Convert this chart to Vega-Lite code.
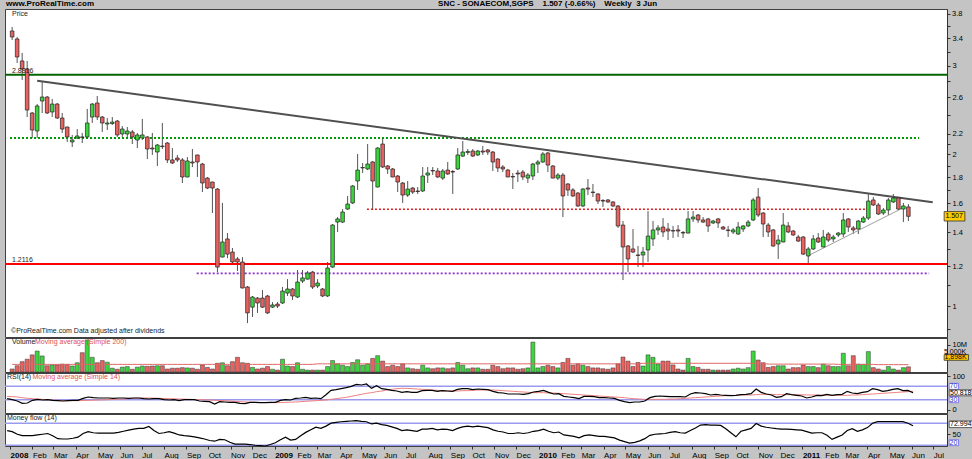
{
"$schema": "https://vega.github.io/schema/vega-lite/v6.json",
"background": "#c4c4c4",
"padding": {"left": 3, "top": 0, "right": 0, "bottom": 0},
"spacing": 1,
"bounds": "flush",
"config": {
  "font": "Liberation Sans",
  "view": {"fill": "white", "stroke": "#404040", "strokeWidth": 1},
  "axis": {"labelFont": "Liberation Sans", "labelFontSize": 7.5, "labelColor": "#000", "tickColor": "#333", "domainColor": "#333", "grid": false, "labelOverlap": false, "labelBound": false}
},
"datasets": {"one": [{}], "w": [
{"d":"2007-12-28","o":3.516,"h":3.581,"l":3.375,"c":3.421,"v":1.1,"r":33,"rm":40,"m":60,"vm":2.8},
{"d":"2008-01-04","o":3.39,"h":3.421,"l":3.038,"c":3.122,"v":2.3,"r":30,"rm":39,"m":57,"vm":2.8},
{"d":"2008-01-11","o":3.066,"h":3.18,"l":2.811,"c":2.956,"v":3.8,"r":26,"rm":38,"m":50,"vm":2.8},
{"d":"2008-01-18","o":2.956,"h":3.066,"l":2.373,"c":2.45,"v":4.7,"r":19,"rm":36,"m":46,"vm":2.8},
{"d":"2008-01-25","o":2.417,"h":2.428,"l":2.156,"c":2.236,"v":6.3,"r":20,"rm":34,"m":46,"vm":2.8},
{"d":"2008-02-01","o":2.226,"h":2.518,"l":2.156,"c":2.496,"v":7.7,"r":28,"rm":33,"m":46,"vm":2.8},
{"d":"2008-02-08","o":2.553,"h":2.798,"l":2.417,"c":2.6,"v":5.9,"r":31,"rm":32,"m":48,"vm":2.8},
{"d":"2008-02-15","o":2.6,"h":2.612,"l":2.406,"c":2.417,"v":2.3,"r":29,"rm":31,"m":50,"vm":2.8},
{"d":"2008-02-22","o":2.428,"h":2.577,"l":2.373,"c":2.518,"v":2.6,"r":30,"rm":30,"m":52,"vm":2.8},
{"d":"2008-02-29","o":2.518,"h":2.53,"l":2.352,"c":2.362,"v":2.6,"r":28,"rm":29,"m":46,"vm":2.8},
{"d":"2008-03-07","o":2.362,"h":2.417,"l":2.206,"c":2.246,"v":2.9,"r":27,"rm":28,"m":38,"vm":2.8},
{"d":"2008-03-14","o":2.267,"h":2.27,"l":2.117,"c":2.166,"v":2.8,"r":26,"rm":27.5,"m":37,"vm":2.8},
{"d":"2008-03-21","o":2.117,"h":2.186,"l":2.069,"c":2.136,"v":2.2,"r":27,"rm":27,"m":37,"vm":2.8},
{"d":"2008-03-28","o":2.156,"h":2.246,"l":2.146,"c":2.176,"v":3.4,"r":28,"rm":27,"m":39,"vm":2.8},
{"d":"2008-04-04","o":2.166,"h":2.206,"l":2.107,"c":2.162,"v":7.1,"r":28,"rm":27,"m":42,"vm":2.8},
{"d":"2008-04-11","o":2.166,"h":2.462,"l":2.16,"c":2.309,"v":11.8,"r":34,"rm":27.5,"m":52,"vm":2.8},
{"d":"2008-04-18","o":2.373,"h":2.53,"l":2.309,"c":2.518,"v":5.4,"r":38,"rm":28,"m":57,"vm":2.8},
{"d":"2008-04-25","o":2.53,"h":2.612,"l":2.341,"c":2.373,"v":3.4,"r":36,"rm":28.5,"m":54,"vm":2.8},
{"d":"2008-05-02","o":2.373,"h":2.384,"l":2.216,"c":2.309,"v":4.2,"r":35,"rm":29,"m":53,"vm":2.8},
{"d":"2008-05-09","o":2.298,"h":2.362,"l":2.236,"c":2.309,"v":3.6,"r":35,"rm":29.5,"m":53,"vm":2.8},
{"d":"2008-05-16","o":2.303,"h":2.373,"l":2.288,"c":2.319,"v":1.4,"r":35,"rm":30,"m":53,"vm":2.8},
{"d":"2008-05-23","o":2.33,"h":2.341,"l":2.166,"c":2.186,"v":1.0,"r":34,"rm":31,"m":53,"vm":2.8},
{"d":"2008-05-30","o":2.196,"h":2.277,"l":2.166,"c":2.246,"v":1.8,"r":35,"rm":31.5,"m":55,"vm":2.8},
{"d":"2008-06-06","o":2.196,"h":2.267,"l":2.166,"c":2.226,"v":2.0,"r":35,"rm":32,"m":58,"vm":2.8},
{"d":"2008-06-13","o":2.216,"h":2.236,"l":2.097,"c":2.166,"v":1.0,"r":34,"rm":33,"m":61,"vm":2.8},
{"d":"2008-06-20","o":2.136,"h":2.206,"l":2.059,"c":2.186,"v":1.8,"r":35,"rm":34,"m":64,"vm":2.8},
{"d":"2008-06-27","o":2.156,"h":2.352,"l":2.136,"c":2.186,"v":2.2,"r":35,"rm":34.5,"m":66,"vm":2.8},
{"d":"2008-07-04","o":2.166,"h":2.176,"l":1.958,"c":2.05,"v":2.1,"r":33,"rm":35,"m":66,"vm":2.8},
{"d":"2008-07-11","o":2.059,"h":2.206,"l":1.995,"c":2.05,"v":2.2,"r":32,"rm":35,"m":71,"vm":2.8},
{"d":"2008-07-18","o":2.022,"h":2.097,"l":1.897,"c":2.088,"v":2.3,"r":33,"rm":34.5,"m":60,"vm":2.8},
{"d":"2008-07-25","o":2.078,"h":2.309,"l":2.05,"c":2.073,"v":2.3,"r":33,"rm":34,"m":52,"vm":2.8},
{"d":"2008-08-01","o":2.107,"h":2.117,"l":1.923,"c":1.95,"v":1.1,"r":30,"rm":33.5,"m":54,"vm":2.8},
{"d":"2008-08-08","o":1.95,"h":2.059,"l":1.914,"c":1.923,"v":1.4,"r":29,"rm":33,"m":57,"vm":2.8},
{"d":"2008-08-15","o":1.967,"h":1.995,"l":1.932,"c":1.95,"v":1.4,"r":30,"rm":32.5,"m":53,"vm":2.8},
{"d":"2008-08-22","o":1.95,"h":1.967,"l":1.755,"c":1.804,"v":1.6,"r":27,"rm":32,"m":48,"vm":2.8},
{"d":"2008-08-29","o":1.804,"h":1.976,"l":1.801,"c":1.941,"v":1.5,"r":30,"rm":31.5,"m":46,"vm":2.8},
{"d":"2008-09-05","o":1.932,"h":2.05,"l":1.888,"c":1.923,"v":1.4,"r":30,"rm":31,"m":45,"vm":2.8},
{"d":"2008-09-12","o":1.995,"h":1.997,"l":1.804,"c":1.932,"v":1.0,"r":30,"rm":30.5,"m":43,"vm":2.8},
{"d":"2008-09-19","o":1.914,"h":1.923,"l":1.684,"c":1.755,"v":2.6,"r":26,"rm":30,"m":40,"vm":2.8},
{"d":"2008-09-26","o":1.795,"h":1.804,"l":1.707,"c":1.715,"v":1.7,"r":25,"rm":29.5,"m":37,"vm":2.8},
{"d":"2008-10-03","o":1.763,"h":1.765,"l":1.53,"c":1.715,"v":1.1,"r":24,"rm":29,"m":33,"vm":2.8},
{"d":"2008-10-10","o":1.707,"h":1.715,"l":1.168,"c":1.195,"v":3.2,"r":17,"rm":28,"m":31,"vm":2.8},
{"d":"2008-10-17","o":1.251,"h":1.602,"l":1.249,"c":1.34,"v":3.4,"r":24,"rm":27.5,"m":36,"vm":2.8},
{"d":"2008-10-24","o":1.359,"h":1.396,"l":1.245,"c":1.268,"v":2.3,"r":23,"rm":27,"m":35,"vm":2.8},
{"d":"2008-10-31","o":1.28,"h":1.304,"l":1.212,"c":1.223,"v":3.8,"r":22,"rm":26,"m":28,"vm":2.8},
{"d":"2008-11-07","o":1.24,"h":1.251,"l":1.174,"c":1.223,"v":5.4,"r":22,"rm":25,"m":23,"vm":2.8},
{"d":"2008-11-14","o":1.223,"h":1.251,"l":1.084,"c":1.086,"v":3.4,"r":19,"rm":24,"m":23,"vm":2.8},
{"d":"2008-11-21","o":1.091,"h":1.096,"l":0.925,"c":0.969,"v":3.2,"r":18,"rm":23,"m":23,"vm":2.8},
{"d":"2008-11-28","o":0.995,"h":1.047,"l":0.951,"c":1.042,"v":1.7,"r":22,"rm":22.5,"m":22,"vm":2.8},
{"d":"2008-12-05","o":1.037,"h":1.042,"l":0.969,"c":1.014,"v":1.1,"r":22,"rm":22,"m":20,"vm":2.8},
{"d":"2008-12-12","o":1.037,"h":1.076,"l":0.991,"c":0.995,"v":1.4,"r":21,"rm":21.5,"m":19,"vm":2.8},
{"d":"2008-12-19","o":1.047,"h":1.052,"l":0.964,"c":0.969,"v":2.0,"r":21,"rm":21.5,"m":18,"vm":2.8},
{"d":"2008-12-26","o":0.995,"h":1.018,"l":0.991,"c":1.005,"v":1.0,"r":22,"rm":21,"m":22,"vm":2.8},
{"d":"2009-01-02","o":1.009,"h":1.018,"l":0.991,"c":1.0,"v":0.7,"r":22,"rm":21,"m":27,"vm":2.8},
{"d":"2009-01-09","o":1.014,"h":1.091,"l":1.009,"c":1.071,"v":4.7,"r":28,"rm":21.5,"m":35,"vm":2.8},
{"d":"2009-01-16","o":1.061,"h":1.131,"l":1.047,"c":1.081,"v":2.2,"r":30,"rm":22,"m":42,"vm":2.8},
{"d":"2009-01-23","o":1.081,"h":1.086,"l":1.028,"c":1.047,"v":2.0,"r":29,"rm":22.5,"m":34,"vm":2.8},
{"d":"2009-01-30","o":1.042,"h":1.179,"l":1.037,"c":1.116,"v":3.4,"r":34,"rm":23,"m":36,"vm":2.8},
{"d":"2009-02-06","o":1.121,"h":1.179,"l":1.111,"c":1.137,"v":1.0,"r":35,"rm":24,"m":46,"vm":2.8},
{"d":"2009-02-13","o":1.131,"h":1.174,"l":1.128,"c":1.163,"v":0.7,"r":37,"rm":25,"m":55,"vm":2.8},
{"d":"2009-02-20","o":1.168,"h":1.174,"l":1.081,"c":1.091,"v":0.7,"r":34,"rm":26,"m":62,"vm":2.8},
{"d":"2009-02-27","o":1.096,"h":1.131,"l":1.086,"c":1.111,"v":0.7,"r":35,"rm":27,"m":69,"vm":3.0},
{"d":"2009-03-06","o":1.081,"h":1.086,"l":1.042,"c":1.047,"v":0.7,"r":33,"rm":28,"m":66,"vm":3.0},
{"d":"2009-03-13","o":1.047,"h":1.223,"l":1.042,"c":1.19,"v":2.0,"r":45,"rm":29,"m":72,"vm":3.0},
{"d":"2009-03-20","o":1.195,"h":1.455,"l":1.19,"c":1.448,"v":4.2,"r":58,"rm":31,"m":80,"vm":3.0},
{"d":"2009-03-27","o":1.468,"h":1.502,"l":1.403,"c":1.489,"v":3.0,"r":60,"rm":33,"m":82,"vm":3.0},
{"d":"2009-04-03","o":1.468,"h":1.558,"l":1.462,"c":1.537,"v":2.5,"r":63,"rm":35,"m":84,"vm":3.0},
{"d":"2009-04-10","o":1.558,"h":1.654,"l":1.551,"c":1.594,"v":2.0,"r":66,"rm":37,"m":85,"vm":3.0},
{"d":"2009-04-17","o":1.602,"h":1.739,"l":1.594,"c":1.731,"v":3.5,"r":70,"rm":40,"m":86,"vm":3.0},
{"d":"2009-04-24","o":1.771,"h":2.004,"l":1.7,"c":1.862,"v":4.5,"r":76,"rm":43,"m":87,"vm":3.0},
{"d":"2009-05-01","o":1.88,"h":1.923,"l":1.837,"c":1.884,"v":2.5,"r":74,"rm":46,"m":85,"vm":3.0},
{"d":"2009-05-08","o":1.871,"h":2.097,"l":1.862,"c":1.914,"v":3.0,"r":77,"rm":49,"m":84,"vm":3.0},
{"d":"2009-05-15","o":1.932,"h":1.941,"l":1.551,"c":1.771,"v":5.0,"r":64,"rm":51,"m":78,"vm":3.0},
{"d":"2009-05-22","o":1.723,"h":2.069,"l":1.72,"c":2.059,"v":6.0,"r":72,"rm":54,"m":80,"vm":3.0},
{"d":"2009-05-29","o":2.097,"h":2.146,"l":1.88,"c":1.888,"v":4.0,"r":63,"rm":56,"m":76,"vm":3.0},
{"d":"2009-06-05","o":1.897,"h":1.905,"l":1.829,"c":1.871,"v":2.0,"r":61,"rm":59,"m":74,"vm":3.0},
{"d":"2009-06-12","o":1.871,"h":1.88,"l":1.802,"c":1.804,"v":2.5,"r":58,"rm":61,"m":70,"vm":3.0},
{"d":"2009-06-19","o":1.812,"h":1.82,"l":1.684,"c":1.763,"v":2.0,"r":56,"rm":63,"m":66,"vm":3.0},
{"d":"2009-06-26","o":1.755,"h":1.763,"l":1.602,"c":1.661,"v":3.0,"r":52,"rm":64,"m":60,"vm":3.0},
{"d":"2009-07-03","o":1.661,"h":1.771,"l":1.646,"c":1.707,"v":1.5,"r":54,"rm":64,"m":62,"vm":3.0},
{"d":"2009-07-10","o":1.715,"h":1.723,"l":1.669,"c":1.684,"v":1.2,"r":52,"rm":63,"m":60,"vm":3.0},
{"d":"2009-07-17","o":1.692,"h":1.723,"l":1.669,"c":1.688,"v":1.0,"r":52,"rm":62,"m":58,"vm":3.0},
{"d":"2009-07-24","o":1.692,"h":1.888,"l":1.684,"c":1.812,"v":2.5,"r":57,"rm":61,"m":64,"vm":3.0},
{"d":"2009-07-31","o":1.82,"h":1.888,"l":1.755,"c":1.837,"v":1.5,"r":58,"rm":60,"m":64,"vm":3.0},
{"d":"2009-08-07","o":1.858,"h":1.888,"l":1.82,"c":1.854,"v":1.2,"r":58,"rm":59,"m":66,"vm":3.0},
{"d":"2009-08-14","o":1.854,"h":1.88,"l":1.795,"c":1.804,"v":1.5,"r":55,"rm":58,"m":62,"vm":3.0},
{"d":"2009-08-21","o":1.795,"h":1.871,"l":1.779,"c":1.854,"v":1.5,"r":57,"rm":57,"m":64,"vm":3.0},
{"d":"2009-08-28","o":1.862,"h":1.932,"l":1.82,"c":1.829,"v":1.2,"r":56,"rm":56,"m":63,"vm":3.0},
{"d":"2009-09-04","o":1.85,"h":1.862,"l":1.669,"c":1.845,"v":1.5,"r":55,"rm":56,"m":60,"vm":3.0},
{"d":"2009-09-11","o":1.871,"h":2.059,"l":1.862,"c":1.995,"v":3.5,"r":61,"rm":56,"m":66,"vm":3.0},
{"d":"2009-09-18","o":1.985,"h":2.126,"l":1.976,"c":2.022,"v":2.5,"r":63,"rm":57,"m":70,"vm":3.0},
{"d":"2009-09-25","o":2.018,"h":2.05,"l":1.995,"c":2.027,"v":1.2,"r":63,"rm":57,"m":72,"vm":3.0},
{"d":"2009-10-02","o":2.031,"h":2.05,"l":1.976,"c":1.985,"v":1.5,"r":60,"rm":58,"m":70,"vm":3.0},
{"d":"2009-10-09","o":1.995,"h":2.041,"l":1.985,"c":2.031,"v":1.5,"r":62,"rm":59,"m":72,"vm":3.0},
{"d":"2009-10-16","o":2.031,"h":2.078,"l":1.995,"c":2.022,"v":1.0,"r":61,"rm":59,"m":70,"vm":3.0},
{"d":"2009-10-23","o":2.041,"h":2.05,"l":1.995,"c":2.022,"v":1.0,"r":60,"rm":59,"m":68,"vm":3.0},
{"d":"2009-10-30","o":2.022,"h":2.031,"l":1.854,"c":1.932,"v":2.5,"r":55,"rm":59,"m":62,"vm":3.0},
{"d":"2009-11-06","o":1.958,"h":1.967,"l":1.845,"c":1.88,"v":2.0,"r":51,"rm":58,"m":58,"vm":3.0},
{"d":"2009-11-13","o":1.888,"h":1.905,"l":1.845,"c":1.871,"v":1.2,"r":50,"rm":57,"m":56,"vm":3.0},
{"d":"2009-11-20","o":1.862,"h":1.871,"l":1.802,"c":1.804,"v":1.5,"r":47,"rm":56,"m":52,"vm":3.0},
{"d":"2009-11-27","o":1.808,"h":1.837,"l":1.707,"c":1.804,"v":1.5,"r":47,"rm":55,"m":52,"vm":3.0},
{"d":"2009-12-04","o":1.837,"h":1.862,"l":1.763,"c":1.829,"v":1.0,"r":47,"rm":54,"m":54,"vm":3.0},
{"d":"2009-12-11","o":1.845,"h":1.862,"l":1.779,"c":1.804,"v":1.2,"r":46,"rm":53,"m":52,"vm":3.0},
{"d":"2009-12-18","o":1.795,"h":1.837,"l":1.755,"c":1.82,"v":1.5,"r":48,"rm":52,"m":54,"vm":3.0},
{"d":"2009-12-25","o":1.812,"h":1.923,"l":1.779,"c":1.914,"v":11.0,"r":53,"rm":51,"m":58,"vm":3.0},
{"d":"2010-01-01","o":1.914,"h":1.95,"l":1.837,"c":1.932,"v":1.5,"r":55,"rm":51,"m":60,"vm":3.0},
{"d":"2010-01-08","o":1.932,"h":2.022,"l":1.923,"c":2.004,"v":2.0,"r":58,"rm":51,"m":64,"vm":3.0},
{"d":"2010-01-15","o":2.013,"h":2.022,"l":1.845,"c":1.905,"v":2.5,"r":52,"rm":50,"m":58,"vm":3.0},
{"d":"2010-01-22","o":1.897,"h":1.905,"l":1.793,"c":1.795,"v":2.0,"r":47,"rm":50,"m":54,"vm":3.0},
{"d":"2010-01-29","o":1.795,"h":1.837,"l":1.779,"c":1.82,"v":1.5,"r":48,"rm":49,"m":56,"vm":3.0},
{"d":"2010-02-05","o":1.82,"h":1.837,"l":1.502,"c":1.654,"v":3.5,"r":40,"rm":48,"m":48,"vm":3.0},
{"d":"2010-02-12","o":1.747,"h":1.755,"l":1.654,"c":1.7,"v":5.0,"r":38,"rm":47,"m":46,"vm":3.0},
{"d":"2010-02-19","o":1.7,"h":1.715,"l":1.646,"c":1.654,"v":2.5,"r":36,"rm":46,"m":44,"vm":3.0},
{"d":"2010-02-26","o":1.676,"h":1.684,"l":1.573,"c":1.58,"v":3.0,"r":33,"rm":45,"m":40,"vm":3.0},
{"d":"2010-03-05","o":1.58,"h":1.715,"l":1.573,"c":1.707,"v":2.5,"r":40,"rm":44,"m":46,"vm":3.0},
{"d":"2010-03-12","o":1.715,"h":1.787,"l":1.661,"c":1.707,"v":2.0,"r":40,"rm":43,"m":48,"vm":3.0},
{"d":"2010-03-19","o":1.684,"h":1.747,"l":1.646,"c":1.68,"v":1.5,"r":39,"rm":42,"m":46,"vm":3.0},
{"d":"2010-03-26","o":1.669,"h":1.676,"l":1.594,"c":1.616,"v":1.5,"r":36,"rm":41,"m":44,"vm":3.0},
{"d":"2010-04-02","o":1.62,"h":1.631,"l":1.573,"c":1.616,"v":1.2,"r":36,"rm":40,"m":44,"vm":3.0},
{"d":"2010-04-09","o":1.624,"h":1.631,"l":1.602,"c":1.609,"v":1.0,"r":35,"rm":39,"m":42,"vm":3.0},
{"d":"2010-04-16","o":1.609,"h":1.616,"l":1.573,"c":1.58,"v":1.5,"r":34,"rm":38,"m":40,"vm":3.0},
{"d":"2010-04-23","o":1.58,"h":1.587,"l":1.429,"c":1.442,"v":3.0,"r":28,"rm":37,"m":34,"vm":3.0},
{"d":"2010-04-30","o":1.448,"h":1.475,"l":1.126,"c":1.31,"v":5.5,"r":24,"rm":36,"m":30,"vm":3.0},
{"d":"2010-05-07","o":1.316,"h":1.322,"l":1.168,"c":1.24,"v":4.0,"r":21,"rm":34,"m":26,"vm":3.0},
{"d":"2010-05-14","o":1.298,"h":1.422,"l":1.274,"c":1.28,"v":2.0,"r":23,"rm":33,"m":28,"vm":3.0},
{"d":"2010-05-21","o":1.263,"h":1.316,"l":1.195,"c":1.26,"v":3.5,"r":23,"rm":32,"m":32,"vm":3.0},
{"d":"2010-05-28","o":1.263,"h":1.31,"l":1.195,"c":1.28,"v":2.2,"r":26,"rm":31,"m":38,"vm":3.2},
{"d":"2010-06-04","o":1.292,"h":1.544,"l":1.223,"c":1.377,"v":6.3,"r":36,"rm":31,"m":47,"vm":3.2},
{"d":"2010-06-11","o":1.359,"h":1.475,"l":1.316,"c":1.416,"v":5.4,"r":40,"rm":31,"m":50,"vm":3.2},
{"d":"2010-06-18","o":1.416,"h":1.448,"l":1.384,"c":1.429,"v":2.9,"r":41,"rm":31,"m":51,"vm":3.2},
{"d":"2010-06-25","o":1.435,"h":1.495,"l":1.371,"c":1.403,"v":4.0,"r":40,"rm":31,"m":52,"vm":3.2},
{"d":"2010-07-02","o":1.422,"h":1.462,"l":1.352,"c":1.409,"v":4.0,"r":39,"rm":32,"m":55,"vm":3.2},
{"d":"2010-07-09","o":1.412,"h":1.442,"l":1.365,"c":1.409,"v":2.6,"r":39,"rm":32,"m":57,"vm":3.2},
{"d":"2010-07-16","o":1.416,"h":1.448,"l":1.371,"c":1.409,"v":1.1,"r":39,"rm":33,"m":54,"vm":3.2},
{"d":"2010-07-23","o":1.4,"h":1.409,"l":1.365,"c":1.396,"v":0.7,"r":38,"rm":34,"m":53,"vm":3.2},
{"d":"2010-07-30","o":1.396,"h":1.544,"l":1.394,"c":1.489,"v":5.0,"r":47,"rm":35,"m":60,"vm":3.2},
{"d":"2010-08-06","o":1.489,"h":1.544,"l":1.468,"c":1.502,"v":2.0,"r":51,"rm":36,"m":67,"vm":3.2},
{"d":"2010-08-13","o":1.516,"h":1.523,"l":1.462,"c":1.482,"v":1.7,"r":50,"rm":37,"m":75,"vm":3.2},
{"d":"2010-08-20","o":1.482,"h":1.502,"l":1.462,"c":1.468,"v":1.0,"r":48,"rm":38,"m":76,"vm":3.2},
{"d":"2010-08-27","o":1.489,"h":1.495,"l":1.403,"c":1.442,"v":1.0,"r":44,"rm":39,"m":75,"vm":3.2},
{"d":"2010-09-03","o":1.462,"h":1.482,"l":1.455,"c":1.475,"v":0.7,"r":46,"rm":40,"m":75,"vm":3.2},
{"d":"2010-09-10","o":1.489,"h":1.495,"l":1.429,"c":1.462,"v":0.7,"r":44,"rm":41,"m":74,"vm":3.2},
{"d":"2010-09-17","o":1.435,"h":1.442,"l":1.416,"c":1.422,"v":0.7,"r":43,"rm":42,"m":65,"vm":3.2},
{"d":"2010-09-24","o":1.416,"h":1.442,"l":1.371,"c":1.412,"v":0.7,"r":42,"rm":43,"m":54,"vm":3.2},
{"d":"2010-10-01","o":1.403,"h":1.429,"l":1.39,"c":1.416,"v":1.1,"r":43,"rm":43,"m":43,"vm":3.2},
{"d":"2010-10-08","o":1.39,"h":1.468,"l":1.384,"c":1.435,"v":1.4,"r":45,"rm":44,"m":58,"vm":3.2},
{"d":"2010-10-15","o":1.422,"h":1.448,"l":1.403,"c":1.442,"v":1.1,"r":46,"rm":44,"m":62,"vm":3.2},
{"d":"2010-10-22","o":1.442,"h":1.482,"l":1.435,"c":1.468,"v":1.6,"r":48,"rm":44,"m":66,"vm":3.2},
{"d":"2010-10-29","o":1.482,"h":1.639,"l":1.475,"c":1.624,"v":7.7,"r":62,"rm":45,"m":79,"vm":3.2},
{"d":"2010-11-05","o":1.646,"h":1.715,"l":1.502,"c":1.516,"v":4.4,"r":52,"rm":46,"m":72,"vm":3.2},
{"d":"2010-11-12","o":1.53,"h":1.537,"l":1.371,"c":1.455,"v":3.4,"r":47,"rm":46,"m":69,"vm":3.2},
{"d":"2010-11-19","o":1.448,"h":1.462,"l":1.371,"c":1.403,"v":1.7,"r":44,"rm":46,"m":67,"vm":2.9},
{"d":"2010-11-26","o":1.416,"h":1.422,"l":1.31,"c":1.316,"v":2.0,"r":37,"rm":45,"m":65,"vm":2.9},
{"d":"2010-12-03","o":1.328,"h":1.384,"l":1.24,"c":1.352,"v":2.3,"r":39,"rm":45,"m":64,"vm":2.9},
{"d":"2010-12-10","o":1.34,"h":1.53,"l":1.338,"c":1.448,"v":2.3,"r":48,"rm":45,"m":64,"vm":2.9},
{"d":"2010-12-17","o":1.442,"h":1.468,"l":1.396,"c":1.403,"v":1.1,"r":45,"rm":45,"m":63,"vm":2.9},
{"d":"2010-12-24","o":1.409,"h":1.416,"l":1.377,"c":1.384,"v":1.6,"r":43,"rm":45,"m":62,"vm":2.9},
{"d":"2010-12-31","o":1.371,"h":1.384,"l":1.34,"c":1.346,"v":1.6,"r":41,"rm":45,"m":61,"vm":2.9},
{"d":"2011-01-07","o":1.371,"h":1.377,"l":1.263,"c":1.268,"v":2.6,"r":35,"rm":44,"m":57,"vm":2.9},
{"d":"2011-01-14","o":1.257,"h":1.31,"l":1.206,"c":1.298,"v":2.0,"r":38,"rm":44,"m":53,"vm":2.9},
{"d":"2011-01-21","o":1.298,"h":1.384,"l":1.292,"c":1.359,"v":2.0,"r":43,"rm":44,"m":54,"vm":2.9},
{"d":"2011-01-28","o":1.365,"h":1.396,"l":1.334,"c":1.34,"v":1.6,"r":42,"rm":44,"m":54,"vm":2.9},
{"d":"2011-02-04","o":1.31,"h":1.416,"l":1.308,"c":1.371,"v":2.9,"r":46,"rm":44,"m":47,"vm":2.9},
{"d":"2011-02-11","o":1.39,"h":1.403,"l":1.34,"c":1.352,"v":2.3,"r":43,"rm":43,"m":36,"vm":2.9},
{"d":"2011-02-18","o":1.359,"h":1.384,"l":1.34,"c":1.371,"v":2.0,"r":45,"rm":43,"m":42,"vm":2.9},
{"d":"2011-02-25","o":1.384,"h":1.403,"l":1.371,"c":1.396,"v":2.0,"r":46,"rm":43,"m":48,"vm":2.8},
{"d":"2011-03-04","o":1.39,"h":1.53,"l":1.371,"c":1.482,"v":6.9,"r":55,"rm":43,"m":60,"vm":2.8},
{"d":"2011-03-11","o":1.489,"h":1.495,"l":1.403,"c":1.435,"v":2.3,"r":50,"rm":44,"m":65,"vm":2.8},
{"d":"2011-03-18","o":1.429,"h":1.442,"l":1.39,"c":1.416,"v":6.0,"r":48,"rm":44,"m":58,"vm":2.8},
{"d":"2011-03-25","o":1.422,"h":1.482,"l":1.39,"c":1.475,"v":2.9,"r":52,"rm":45,"m":62,"vm":2.8},
{"d":"2011-04-01","o":1.468,"h":1.509,"l":1.462,"c":1.495,"v":2.8,"r":54,"rm":46,"m":68,"vm":2.8},
{"d":"2011-04-08","o":1.495,"h":1.676,"l":1.482,"c":1.616,"v":7.5,"r":63,"rm":47,"m":80,"vm":2.8},
{"d":"2011-04-15","o":1.624,"h":1.646,"l":1.58,"c":1.587,"v":1.6,"r":60,"rm":48,"m":84,"vm":2.8},
{"d":"2011-04-22","o":1.587,"h":1.602,"l":1.516,"c":1.523,"v":1.1,"r":55,"rm":49,"m":84,"vm":2.7},
{"d":"2011-04-29","o":1.53,"h":1.565,"l":1.516,"c":1.551,"v":0.7,"r":57,"rm":50,"m":84,"vm":2.7},
{"d":"2011-05-06","o":1.551,"h":1.639,"l":1.516,"c":1.624,"v":2.0,"r":61,"rm":51,"m":84,"vm":2.7},
{"d":"2011-05-13","o":1.609,"h":1.669,"l":1.602,"c":1.639,"v":1.1,"r":63,"rm":52,"m":84,"vm":2.7},
{"d":"2011-05-20","o":1.639,"h":1.646,"l":1.551,"c":1.558,"v":0.7,"r":57,"rm":53,"m":84,"vm":2.7},
{"d":"2011-05-27","o":1.558,"h":1.602,"l":1.468,"c":1.58,"v":1.6,"r":58,"rm":54,"m":80,"vm":2.7},
{"d":"2011-06-03","o":1.573,"h":1.594,"l":1.475,"c":1.507,"v":1.9,"r":50.8,"rm":55,"m":73,"vm":2.7}
]},
"vconcat": [
{
  "width": 942, "height": 8,
  "view": {"fill": null, "stroke": null},
  "data": {"name": "one"},
  "layer": [
    {"mark": {"type": "text", "align": "left", "baseline": "middle", "fontSize": 8, "fontWeight": "bold", "color": "#000", "dx": 1},
     "encoding": {"x": {"datum": {"year": 2007, "month": 12, "date": 25}, "type": "temporal", "scale": {"domain": [{"year": 2007, "month": 12, "date": 25}, {"year": 2011, "month": 7, "date": 20}]}, "axis": null},
                  "text": {"value": "www.ProRealTime.com"}}},
    {"mark": {"type": "text", "align": "left", "baseline": "middle", "fontSize": 8, "fontWeight": "bold", "color": "#000"},
     "encoding": {"x": {"datum": {"year": 2009, "month": 8, "date": 15}, "type": "temporal"},
                  "text": {"value": "SNC - SONAECOM,SGPS\u00a0\u00a0\u00a0\u00a01.507 (-0.66%)\u00a0\u00a0\u00a0\u00a0Weekly\u00a0\u00a03 Jun"}}},
    {"mark": {"type": "text", "align": "left", "baseline": "middle", "fontSize": 7.5, "dx": 5, "dy": 10, "color": "#000"},
     "encoding": {"x": {"datum": {"year": 2011, "month": 7, "date": 20}, "type": "temporal"}, "text": {"value": "3.8"}}}
  ]
},
{
  "width": 942, "height": 328,
  "layer": [
    {"data": {"name": "w"},
     "mark": {"type": "rule", "color": "#555555", "strokeWidth": 1},
     "encoding": {
       "x": {"field": "d", "type": "temporal", "scale": {"domain": [{"year": 2007, "month": 12, "date": 25}, {"year": 2011, "month": 7, "date": 20}]}, "axis": null},
       "y": {"field": "l", "type": "quantitative", "scale": {"type": "log", "domain": [0.868, 3.888], "nice": false, "zero": false},
             "axis": {"orient": "right", "title": null, "values": [0.9,1,1.1,1.2,1.3,1.4,1.5,1.6,1.7,1.8,1.9,2,2.1,2.2,2.4,2.6,2.8,3,3.2,3.4,3.6,3.8],
                      "labelExpr": "indexof(['1','1.2','1.4','1.6','1.8','2','2.2','2.6','3','3.4'], format(datum.value, '.2~f')) >= 0 ? format(datum.value, '.2~f') : ''",
                      "tickSize": 3, "labelPadding": 2, "labelOverlap": false, "labelBound": false, "labelFlush": false}},
       "y2": {"field": "h"}}},
    {"data": {"name": "one"}, "mark": {"type": "rule", "color": "#006400", "strokeWidth": 2}, "encoding": {"y": {"datum": 2.88}}},
    {"data": {"name": "one"}, "mark": {"type": "rule", "color": "#009900", "strokeWidth": 2, "strokeDash": [2, 2]},
     "encoding": {"x": {"datum": {"year": 2007, "month": 12, "date": 25}, "type": "temporal"}, "x2": {"datum": {"year": 2011, "month": 6, "date": 18}}, "y": {"datum": 2.155}}},
    {"data": {"name": "one"}, "mark": {"type": "rule", "color": "#ff0000", "strokeWidth": 2}, "encoding": {"y": {"datum": 1.2116}}},
    {"data": {"name": "one"}, "mark": {"type": "rule", "color": "#8b2fc9", "strokeWidth": 1.6, "strokeDash": [2, 2]},
     "encoding": {"x": {"datum": {"year": 2008, "month": 9, "date": 11}, "type": "temporal"}, "x2": {"datum": {"year": 2011, "month": 7, "date": 2}}, "y": {"datum": 1.161}}},
    {"data": {"name": "one"}, "mark": {"type": "rule", "color": "#dd1c1c", "strokeWidth": 1.4, "strokeDash": [2, 2]},
     "encoding": {"x": {"datum": {"year": 2009, "month": 5, "date": 7}, "type": "temporal"}, "x2": {"datum": {"year": 2011, "month": 4, "date": 11}}, "y": {"datum": 1.556}}},
    {"data": {"name": "one"}, "mark": {"type": "rule", "color": "#505050", "strokeWidth": 2},
     "encoding": {"x": {"datum": {"year": 2008, "month": 2, "date": 1}, "type": "temporal"}, "y": {"datum": 2.8}, "x2": {"datum": {"year": 2011, "month": 7, "date": 7}}, "y2": {"datum": 1.607}}},
    {"data": {"name": "one"}, "mark": {"type": "rule", "color": "#a0a0a0", "strokeWidth": 1},
     "encoding": {"x": {"datum": {"year": 2011, "month": 1, "date": 16}, "type": "temporal"}, "y": {"datum": 1.263}, "x2": {"datum": {"year": 2011, "month": 5, "date": 26}}, "y2": {"datum": 1.565}}},
    {"data": {"name": "w"},
     "mark": {"type": "bar", "size": 3.6, "stroke": "#222222", "strokeWidth": 0.7},
     "encoding": {
       "x": {"field": "d", "type": "temporal"},
       "y": {"field": "o", "type": "quantitative"},
       "y2": {"field": "c"},
       "fill": {"condition": {"test": "datum.c >= datum.o", "value": "#3ed43e"}, "value": "#e8625f"}}},
    {"data": {"name": "one"}, "mark": {"type": "text", "align": "left", "baseline": "middle", "fontSize": 7, "dx": 2, "color": "#222"},
     "encoding": {"x": {"datum": {"year": 2007, "month": 12, "date": 25}, "type": "temporal"}, "y": {"datum": 3.8}, "text": {"value": "Price"}}},
    {"data": {"name": "one"}, "mark": {"type": "text", "align": "left", "baseline": "bottom", "fontSize": 7, "dx": 2, "dy": -1, "color": "#222"},
     "encoding": {"x": {"datum": {"year": 2007, "month": 12, "date": 25}, "type": "temporal"}, "y": {"datum": 2.88}, "text": {"value": "2.8816"}}},
    {"data": {"name": "one"}, "mark": {"type": "text", "align": "left", "baseline": "bottom", "fontSize": 7, "dx": 2, "dy": -1, "color": "#222"},
     "encoding": {"x": {"datum": {"year": 2007, "month": 12, "date": 25}, "type": "temporal"}, "y": {"datum": 1.2116}, "text": {"value": "1.2116"}}},
    {"data": {"name": "one"}, "mark": {"type": "text", "align": "left", "baseline": "middle", "fontSize": 7, "dx": 1, "color": "#222"},
     "encoding": {"x": {"datum": {"year": 2007, "month": 12, "date": 25}, "type": "temporal"}, "y": {"datum": 0.892}, "text": {"value": "©ProRealTime.com  Data adjusted after dividends"}}},
    {"data": {"name": "one"}, "mark": {"type": "rect", "fill": "#ffcc00", "stroke": "#333333", "strokeWidth": 0.8},
     "encoding": {"x": {"datum": {"year": 2011, "month": 7, "date": 23}, "type": "temporal"}, "x2": {"datum": {"year": 2011, "month": 8, "date": 21}}, "y": {"datum": 1.54}, "y2": {"datum": 1.475}}},
    {"data": {"name": "one"}, "mark": {"type": "text", "align": "center", "baseline": "middle", "fontSize": 7, "color": "#000"},
     "encoding": {"x": {"datum": {"year": 2011, "month": 8, "date": 6}, "type": "temporal"}, "y": {"datum": 1.507}, "text": {"value": "1.507"}}}
  ]
},
{
  "width": 942, "height": 34,
  "layer": [
    {"data": {"name": "w"},
     "mark": {"type": "bar", "size": 4, "stroke": "#333333", "strokeWidth": 0.5},
     "encoding": {
       "x": {"field": "d", "type": "temporal", "scale": {"domain": [{"year": 2007, "month": 12, "date": 25}, {"year": 2011, "month": 7, "date": 20}]}, "axis": null},
       "y": {"field": "v", "type": "quantitative", "scale": {"domain": [0, 12.5], "nice": false},
             "axis": {"orient": "right", "title": null, "values": [5, 10], "labelExpr": "datum.value == 10 ? '10M' : ''", "tickSize": 3, "labelPadding": 2}},
       "fill": {"condition": {"test": "datum.c >= datum.o", "value": "#3ed43e"}, "value": "#e8625f"}}},
    {"data": {"name": "w"}, "mark": {"type": "line", "color": "#e06666", "strokeWidth": 1},
     "encoding": {"x": {"field": "d", "type": "temporal"}, "y": {"field": "vm", "type": "quantitative"}}},
    {"data": {"name": "one"}, "mark": {"type": "text", "align": "left", "baseline": "middle", "fontSize": 7, "dx": 2, "color": "#222"},
     "encoding": {"x": {"datum": {"year": 2007, "month": 12, "date": 25}, "type": "temporal"}, "y": {"datum": 11}, "text": {"value": "Volume"}}},
    {"data": {"name": "one"}, "mark": {"type": "text", "align": "left", "baseline": "middle", "fontSize": 7, "color": "#e05050"},
     "encoding": {"x": {"datum": {"year": 2008, "month": 1, "date": 29}, "type": "temporal"}, "y": {"datum": 11}, "text": {"value": "Moving average (Simple 200)"}}},
    {"data": {"name": "one"}, "mark": {"type": "text", "align": "left", "baseline": "middle", "fontSize": 7, "dx": 2, "color": "#000"},
     "encoding": {"x": {"datum": {"year": 2011, "month": 7, "date": 20}, "type": "temporal"}, "y": {"datum": 7.3}, "text": {"value": "5,000K"}}},
    {"data": {"name": "one"}, "mark": {"type": "rect", "fill": "#ffcc00", "stroke": "#333333", "strokeWidth": 0.8},
     "encoding": {"x": {"datum": {"year": 2011, "month": 7, "date": 23}, "type": "temporal"}, "x2": {"datum": {"year": 2011, "month": 8, "date": 26}}, "y": {"datum": 6.4}, "y2": {"datum": 4.3}}},
    {"data": {"name": "one"}, "mark": {"type": "text", "align": "center", "baseline": "middle", "fontSize": 7, "color": "#000"},
     "encoding": {"x": {"datum": {"year": 2011, "month": 8, "date": 8}, "type": "temporal"}, "y": {"datum": 5.35}, "text": {"value": "1,898K"}}}
  ]
},
{
  "width": 942, "height": 40,
  "layer": [
    {"data": {"name": "one"}, "mark": {"type": "rule", "color": "#9a9aee", "strokeWidth": 1.5},
     "encoding": {"y": {"datum": 70, "type": "quantitative", "scale": {"domain": [-10, 110], "nice": false},
                        "axis": {"orient": "right", "title": null, "values": [0, 100], "tickSize": 3, "labelPadding": 2}}}},
    {"data": {"name": "one"}, "mark": {"type": "rule", "color": "#9a9aee", "strokeWidth": 1.5}, "encoding": {"y": {"datum": 30}}},
    {"data": {"name": "w"}, "mark": {"type": "line", "color": "#f08080", "strokeWidth": 1},
     "encoding": {"x": {"field": "d", "type": "temporal", "scale": {"domain": [{"year": 2007, "month": 12, "date": 25}, {"year": 2011, "month": 7, "date": 20}]}, "axis": null},
                  "y": {"field": "rm", "type": "quantitative"}}},
    {"data": {"name": "w"}, "mark": {"type": "line", "color": "#000000", "strokeWidth": 1.2},
     "encoding": {"x": {"field": "d", "type": "temporal"}, "y": {"field": "r", "type": "quantitative"}}},
    {"data": {"name": "one"}, "mark": {"type": "text", "align": "left", "baseline": "middle", "fontSize": 7, "dx": 2, "color": "#222"},
     "encoding": {"x": {"datum": {"year": 2007, "month": 12, "date": 25}, "type": "temporal"}, "y": {"datum": 99}, "text": {"value": "RSI(14)"}}},
    {"data": {"name": "one"}, "mark": {"type": "text", "align": "left", "baseline": "middle", "fontSize": 7, "color": "#e05050"},
     "encoding": {"x": {"datum": {"year": 2008, "month": 2, "date": 1}, "type": "temporal"}, "y": {"datum": 99}, "text": {"value": "Moving average (Simple 14)"}}},
    {"data": {"name": "one"}, "mark": {"type": "rect", "fill": "white", "stroke": "#6666ee", "strokeWidth": 0.8},
     "encoding": {"x": {"datum": {"year": 2011, "month": 7, "date": 23}, "type": "temporal"}, "x2": {"datum": {"year": 2011, "month": 8, "date": 5}}, "y": {"datum": 79}, "y2": {"datum": 61}}},
    {"data": {"name": "one"}, "mark": {"type": "text", "align": "center", "baseline": "middle", "fontSize": 7, "color": "#3333cc"},
     "encoding": {"x": {"datum": {"year": 2011, "month": 7, "date": 29}, "type": "temporal"}, "y": {"datum": 70}, "text": {"value": "70"}}},
    {"data": {"name": "one"}, "mark": {"type": "rect", "fill": "white", "stroke": "#6666ee", "strokeWidth": 0.8},
     "encoding": {"x": {"datum": {"year": 2011, "month": 7, "date": 23}, "type": "temporal"}, "x2": {"datum": {"year": 2011, "month": 8, "date": 5}}, "y": {"datum": 39}, "y2": {"datum": 21}}},
    {"data": {"name": "one"}, "mark": {"type": "text", "align": "center", "baseline": "middle", "fontSize": 7, "color": "#3333cc"},
     "encoding": {"x": {"datum": {"year": 2011, "month": 7, "date": 29}, "type": "temporal"}, "y": {"datum": 30}, "text": {"value": "30"}}},
    {"data": {"name": "one"}, "mark": {"type": "rect", "fill": "white", "stroke": "#333333", "strokeWidth": 0.8},
     "encoding": {"x": {"datum": {"year": 2011, "month": 7, "date": 23}, "type": "temporal"}, "x2": {"datum": {"year": 2011, "month": 8, "date": 24}}, "y": {"datum": 59.5}, "y2": {"datum": 41.5}}},
    {"data": {"name": "one"}, "mark": {"type": "text", "align": "center", "baseline": "middle", "fontSize": 7, "color": "#000"},
     "encoding": {"x": {"datum": {"year": 2011, "month": 8, "date": 8}, "type": "temporal"}, "y": {"datum": 50.5}, "text": {"value": "50.818"}}}
  ]
},
{
  "width": 942, "height": 32,
  "layer": [
    {"data": {"name": "one"}, "mark": {"type": "rule", "color": "#9a9aee", "strokeWidth": 1.5},
     "encoding": {"y": {"datum": 80, "type": "quantitative", "scale": {"domain": [18, 105], "nice": false},
                        "axis": {"orient": "right", "title": null, "values": [50], "tickSize": 3, "labelPadding": 2}}}},
    {"data": {"name": "one"}, "mark": {"type": "rule", "color": "#9a9aee", "strokeWidth": 1.5}, "encoding": {"y": {"datum": 20}}},
    {"data": {"name": "w"}, "mark": {"type": "line", "color": "#000000", "strokeWidth": 1.2},
     "encoding": {"x": {"field": "d", "type": "temporal", "scale": {"domain": [{"year": 2007, "month": 12, "date": 25}, {"year": 2011, "month": 7, "date": 20}]},
                        "axis": {"orient": "bottom", "title": null, "tickCount": {"interval": "month", "step": 1},
                                 "labelExpr": "month(datum.value) == 0 ? timeFormat(datum.value, '%Y') : timeFormat(datum.value, '%b')",
                                 "labelAlign": "left", "labelFontSize": 8, "labelPadding": 2, "tickSize": 3, "domain": false, "labelFlush": false,
                                 "labelFontWeight": {"condition": {"test": "month(datum.value) == 0", "value": "bold"}, "value": "normal"}}},
                  "y": {"field": "m", "type": "quantitative"}}},
    {"data": {"name": "one"}, "mark": {"type": "text", "align": "left", "baseline": "middle", "fontSize": 7, "dx": 2, "color": "#222"},
     "encoding": {"x": {"datum": {"year": 2007, "month": 12, "date": 25}, "type": "temporal"}, "y": {"datum": 95}, "text": {"value": "Money flow (14)"}}},
    {"data": {"name": "one"}, "mark": {"type": "rect", "fill": "white", "stroke": "#333333", "strokeWidth": 0.8},
     "encoding": {"x": {"datum": {"year": 2011, "month": 7, "date": 23}, "type": "temporal"}, "x2": {"datum": {"year": 2011, "month": 8, "date": 24}}, "y": {"datum": 86}, "y2": {"datum": 68}}},
    {"data": {"name": "one"}, "mark": {"type": "text", "align": "center", "baseline": "middle", "fontSize": 7, "color": "#000"},
     "encoding": {"x": {"datum": {"year": 2011, "month": 8, "date": 8}, "type": "temporal"}, "y": {"datum": 77}, "text": {"value": "72.994"}}},
    {"data": {"name": "one"}, "mark": {"type": "rect", "fill": "white", "stroke": "#6666ee", "strokeWidth": 0.8},
     "encoding": {"x": {"datum": {"year": 2011, "month": 7, "date": 23}, "type": "temporal"}, "x2": {"datum": {"year": 2011, "month": 8, "date": 5}}, "y": {"datum": 35}, "y2": {"datum": 19}}},
    {"data": {"name": "one"}, "mark": {"type": "text", "align": "center", "baseline": "middle", "fontSize": 7, "color": "#3333cc"},
     "encoding": {"x": {"datum": {"year": 2011, "month": 7, "date": 29}, "type": "temporal"}, "y": {"datum": 27}, "text": {"value": "20"}}}
  ]
}
]
}
